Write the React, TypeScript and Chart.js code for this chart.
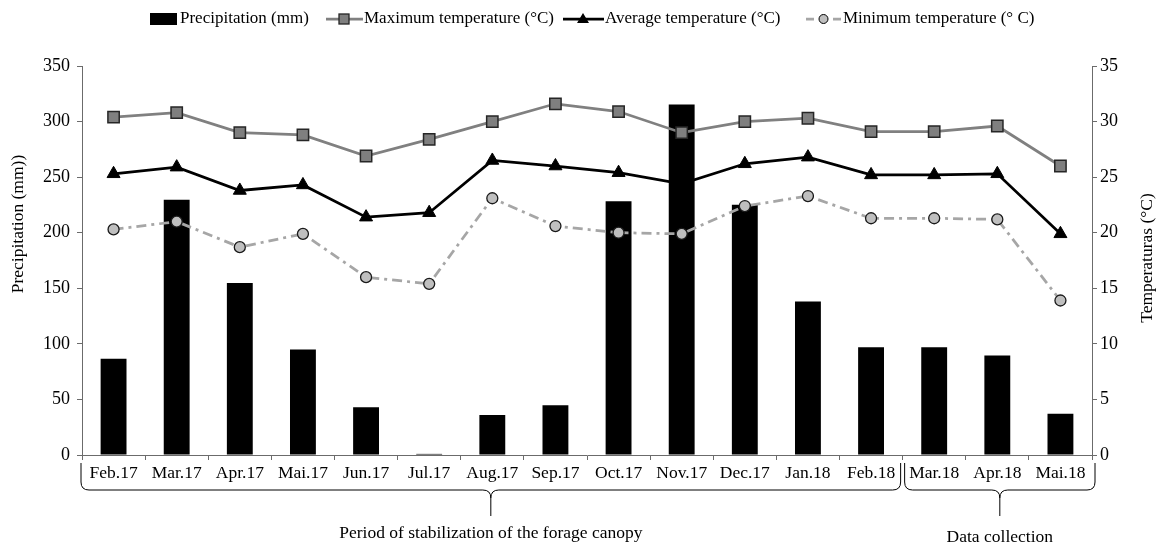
import React, { useEffect, useRef } from 'react';
import { Chart, registerables } from 'chart.js';

Chart.register(...registerables);

const categories = ['Feb.17', 'Mar.17', 'Apr.17', 'Mai.17', 'Jun.17', 'Jul.17', 'Aug.17', 'Sep.17', 'Oct.17', 'Nov.17', 'Dec.17', 'Jan.18', 'Feb.18', 'Mar.18', 'Apr.18', 'Mai.18'];
const precipitation = [86.5, 229.7, 154.7, 94.9, 43, 1, 36, 44.8, 228.2, 315.3, 225.2, 138.1, 97, 97, 89.5, 37.2];
const maxTemp = [30.4, 30.8, 29.0, 28.8, 26.9, 28.4, 30.0, 31.6, 30.9, 29.0, 30.0, 30.3, 29.1, 29.1, 29.6, 26.0];
const avgTemp = [25.3, 25.9, 23.8, 24.3, 21.4, 21.8, 26.5, 26.0, 25.4, 24.4, 26.2, 26.8, 25.2, 25.2, 25.3, 19.9];
const minTemp = [20.3, 21.0, 18.7, 19.9, 16.0, 15.4, 23.1, 20.6, 20.0, 19.9, 22.4, 23.3, 21.3, 21.3, 21.2, 13.9];

const seriesLabels = ['Precipitation (mm)', 'Maximum temperature (°C)', 'Average temperature (°C)', 'Minimum temperature (° C)'];
const leftTitle = 'Precipitation (mm))';
const rightTitle = 'Temperaturas (°C)';
const periods = [
  { label: 'Period of stabilization of the forage canopy', from: 0, to: 12 },
  { label: 'Data collection', from: 13, to: 15 },
];

const FONT_FAMILY = '"Liberation Serif", "Times New Roman", serif';
const FONT = `17.5px ${FONT_FAMILY}`;
const LEGEND_FONT = `17px ${FONT_FAMILY}`;
const TEXT = '#000000';
const AXIS = '#6b6b6b';
const MAX_LINE = '#808080';
const MAX_FILL = '#7f7f7f';
const MIN_LINE = '#a6a6a6';
const MIN_FILL = '#bfbfbf';
const MIN_DASH = [10, 5, 3, 5];

function drawBrace(ctx: CanvasRenderingContext2D, x1: number, x2: number, yTop: number, yMid: number, yTip: number, r: number) {
  const xm = (x1 + x2) / 2;
  ctx.beginPath();
  ctx.moveTo(x1, yTop);
  ctx.lineTo(x1, yMid - r);
  ctx.quadraticCurveTo(x1, yMid, x1 + r, yMid);
  ctx.lineTo(xm - r, yMid);
  ctx.quadraticCurveTo(xm, yMid, xm, yMid + r);
  ctx.lineTo(xm, yTip);
  ctx.moveTo(xm, yMid + r);
  ctx.quadraticCurveTo(xm, yMid, xm + r, yMid);
  ctx.lineTo(x2 - r, yMid);
  ctx.quadraticCurveTo(x2, yMid, x2, yMid - r);
  ctx.lineTo(x2, yTop);
  ctx.stroke();
}

const decorPlugin = {
  id: 'decor',
  afterDraw(chart: any) {
    const ctx: CanvasRenderingContext2D = chart.ctx;
    const xs = chart.scales.x;
    ctx.save();
    ctx.font = FONT;
    ctx.fillStyle = TEXT;
    ctx.textAlign = 'center';
    ctx.textBaseline = 'middle';

    // axis titles
    ctx.save();
    ctx.translate(18, 224);
    ctx.rotate(-Math.PI / 2);
    ctx.fillText(leftTitle, 0, 0);
    ctx.restore();
    ctx.save();
    ctx.translate(1147, 258);
    ctx.rotate(-Math.PI / 2);
    ctx.fillText(rightTitle, 0, 0);
    ctx.restore();

    // braces and period labels
    const half = (xs.getPixelForValue(1) - xs.getPixelForValue(0)) / 2;
    ctx.strokeStyle = '#000';
    ctx.lineWidth = 1;
    periods.forEach((p, i) => {
      const a = xs.getPixelForValue(p.from) - half + (i === 0 ? -1 : 2);
      const b = xs.getPixelForValue(p.to) + half + (i === 0 ? -2 : 3);
      drawBrace(ctx, a, b, 463, 490, 516, 8);
      ctx.fillText(p.label, (a + b) / 2, i === 0 ? 533 : 537);
    });

    // legend
    ctx.font = LEGEND_FONT;
    const ly = 19;
    ctx.textAlign = 'left';
    // bar
    ctx.fillStyle = '#000';
    ctx.fillRect(150, 13, 27, 12);
    ctx.fillStyle = TEXT;
    ctx.fillText(seriesLabels[0], 180, ly);
    // max
    let x = 326;
    ctx.strokeStyle = MAX_LINE;
    ctx.lineWidth = 2.75;
    ctx.beginPath(); ctx.moveTo(x, ly); ctx.lineTo(x + 37, ly); ctx.stroke();
    ctx.fillStyle = MAX_FILL;
    ctx.strokeStyle = '#262626';
    ctx.lineWidth = 1.3;
    ctx.fillRect(x + 13, ly - 5, 10, 10);
    ctx.strokeRect(x + 13, ly - 5, 10, 10);
    ctx.fillStyle = TEXT;
    ctx.fillText(seriesLabels[1], 364, ly);
    // avg
    x = 563;
    ctx.strokeStyle = '#000';
    ctx.lineWidth = 2.75;
    ctx.beginPath(); ctx.moveTo(x, ly); ctx.lineTo(x + 41, ly); ctx.stroke();
    ctx.fillStyle = '#000';
    ctx.beginPath();
    ctx.moveTo(x + 20, ly - 6);
    ctx.lineTo(x + 26, ly + 4);
    ctx.lineTo(x + 14, ly + 4);
    ctx.closePath();
    ctx.fill();
    ctx.fillStyle = TEXT;
    ctx.fillText(seriesLabels[2], 605, ly);
    // min
    x = 806;
    ctx.strokeStyle = MIN_LINE;
    ctx.lineWidth = 2.75;
    ctx.beginPath();
    ctx.moveTo(x, ly); ctx.lineTo(x + 8, ly);
    ctx.moveTo(x + 27, ly); ctx.lineTo(x + 35, ly);
    ctx.stroke();
    ctx.fillStyle = MIN_FILL;
    ctx.strokeStyle = '#000';
    ctx.lineWidth = 1;
    ctx.beginPath(); ctx.arc(x + 17.5, ly, 4.5, 0, Math.PI * 2); ctx.fill(); ctx.stroke();
    ctx.fillStyle = TEXT;
    ctx.fillText(seriesLabels[3], 843, ly);

    ctx.restore();
  },
};

export default function App() {
  const ref = useRef<HTMLCanvasElement | null>(null);
  useEffect(() => {
    if (!ref.current) return;
    const tickFont = { family: FONT_FAMILY, size: 17.5 };
    const numFont = { family: FONT_FAMILY, size: 18 };
    const chart = new Chart(ref.current, {
      type: 'bar',
      data: {
        labels: categories,
        datasets: [
          {
            type: 'bar',
            label: seriesLabels[0],
            data: precipitation,
            backgroundColor: '#000000',
            yAxisID: 'y',
            order: 2,
            barPercentage: 0.41,
            categoryPercentage: 1,
          },
          {
            type: 'line',
            label: seriesLabels[1],
            data: maxTemp,
            yAxisID: 'y1',
            borderColor: MAX_LINE,
            borderWidth: 2.75,
            pointStyle: 'rect',
            pointRadius: 8,
            pointBackgroundColor: MAX_FILL,
            pointBorderColor: '#262626',
            pointBorderWidth: 1.5,
            tension: 0,
            order: 1,
          },
          {
            type: 'line',
            label: seriesLabels[2],
            data: avgTemp,
            yAxisID: 'y1',
            borderColor: '#000000',
            borderWidth: 2.75,
            pointStyle: 'triangle',
            pointRadius: 7.5,
            pointBackgroundColor: '#000000',
            pointBorderColor: '#000000',
            pointBorderWidth: 1,
            tension: 0,
            order: 3,
          },
          {
            type: 'line',
            label: seriesLabels[3],
            data: minTemp,
            yAxisID: 'y1',
            borderColor: MIN_LINE,
            borderWidth: 2.75,
            borderDash: MIN_DASH,
            pointStyle: 'circle',
            pointRadius: 5.5,
            pointBackgroundColor: MIN_FILL,
            pointBorderColor: '#1a1a1a',
            pointBorderWidth: 1.3,
            tension: 0,
            order: 1,
          },
        ] as any,
      },
      options: {
        responsive: false,
        animation: false,
        layout: { padding: { top: 66, left: 0, right: 0, bottom: 0 } },
        plugins: { legend: { display: false }, tooltip: { enabled: false } },
        scales: {
          x: {
            offset: true,
            grid: { display: true, drawOnChartArea: false, drawTicks: true, tickLength: 5, color: AXIS, offset: true },
            border: { display: true, color: AXIS, width: 1 },
            ticks: { font: tickFont, color: TEXT, padding: 3, maxRotation: 0, autoSkip: false },
            afterFit: (s: any) => { s.height = 88; },
          },
          y: {
            position: 'left',
            min: 0,
            max: 350,
            ticks: { stepSize: 50, font: numFont, color: TEXT, padding: 7 },
            grid: { display: true, drawOnChartArea: false, drawTicks: true, tickLength: 5, color: AXIS },
            border: { display: true, color: AXIS, width: 1 },
            afterFit: (s: any) => { s.width = 82; },
          },
          y1: {
            position: 'right',
            min: 0,
            max: 35,
            ticks: { stepSize: 5, font: numFont, color: TEXT, padding: 3 },
            grid: { display: true, drawOnChartArea: false, drawTicks: true, tickLength: 5, color: AXIS },
            border: { display: true, color: AXIS, width: 1 },
            afterFit: (s: any) => { s.width = 69; },
          },
        },
      },
      plugins: [decorPlugin],
    } as any);
    return () => chart.destroy();
  }, []);
  return (
    <div style={{ position: 'fixed', left: 0, top: 0, width: 1161, height: 543, background: '#fff' }}>
      <canvas ref={ref} width={1161} height={543} style={{ display: 'block' }} />
    </div>
  );
}
